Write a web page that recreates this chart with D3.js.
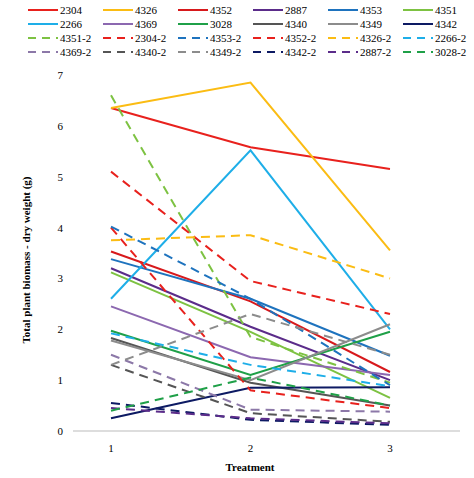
<!DOCTYPE html>
<html><head><meta charset="utf-8">
<script src="https://cdn.jsdelivr.net/npm/d3@7"></script>
<style>body{margin:0;background:#fff}text{font-family:"Liberation Serif",serif}</style>
</head><body><svg id="c" width="474" height="478"></svg>
<script>
var treatments = [1, 2, 3];
var names = ['2304','4326','4352','2887','4353','4351','2266','4369','3028','4340','4349','4342',
  '4351-2','2304-2','4353-2','4352-2','4326-2','2266-2','4369-2','4340-2','4349-2','4342-2','2887-2','3028-2'];
var colors = ['#e8211d','#fbbc13','#d7191c','#5b2c8a','#1e73be','#7dc242','#1eaee8','#8c68b0','#1fa048','#555555','#8c8c8c','#0d1a63',
  '#7dc242','#e8211d','#1e73be','#e8211d','#fbbc13','#1eaee8','#8c78a8','#555555','#8c8c8c','#0d1a63','#5b2c8a','#1fa048'];
var values = [
  [6.35,5.58,5.15],[6.35,6.85,3.55],[3.53,2.55,1.16],[3.2,2.05,1.0],[3.38,2.6,1.48],[3.12,1.95,0.65],
  [2.6,5.52,2.0],[2.45,1.45,1.1],[1.97,1.1,1.95],[1.83,0.95,0.5],[1.78,1.0,2.1],[0.25,0.85,0.86],
  [6.6,1.85,0.95],[4.0,0.8,0.45],[4.02,2.6,0.9],[5.1,2.95,2.3],[3.75,3.85,3.0],[1.92,1.3,0.88],
  [1.5,0.42,0.38],[1.3,0.35,0.18],[1.3,2.3,1.5],[0.55,0.22,0.12],[0.45,0.25,0.15],[0.4,1.05,0.5]];
var yTicks = [0,1,2,3,4,5,6,7];

var svg = d3.select('#c');
var x = d3.scalePoint().domain(treatments).range([111, 390]);
var y = d3.scaleLinear().domain([0, 7]).range([431, 75]);

svg.append('line').attr('x1',73).attr('x2',460).attr('y1',431).attr('y2',431).attr('stroke','#bbb');
svg.selectAll('.yt').data(yTicks).enter().append('text')
  .attr('x',63).attr('y',function(d){return y(d)+4;}).attr('text-anchor','end').attr('font-size',11).text(function(d){return d;});
svg.selectAll('.xt').data(treatments).enter().append('text')
  .attr('x',function(d){return x(d);}).attr('y',452).attr('text-anchor','middle').attr('font-size',11).text(function(d){return d;});
svg.append('text').attr('x',250).attr('y',471).attr('text-anchor','middle').attr('font-size',11).attr('font-weight','bold').text('Treatment');
svg.append('text').attr('transform','translate(30,260) rotate(-90)').attr('text-anchor','middle').attr('font-size',11)
  .attr('font-weight','bold').text('Total plant biomass - dry weight (g)');

var line = d3.line().x(function(d,i){return x(treatments[i]);}).y(function(d){return y(d);});
svg.selectAll('.s').data(values).enter().append('path')
  .attr('d', line).attr('fill','none').attr('stroke-width',2)
  .attr('stroke', function(d,i){return colors[i];})
  .attr('stroke-dasharray', function(d,i){return i >= 12 ? '9,6' : null;});

var lg = svg.selectAll('.lg').data(names).enter().append('g')
  .attr('transform', function(d,i){return 'translate(' + (28 + (i%6)*75) + ',' + (10 + Math.floor(i/6)*14) + ')';});
lg.append('line').attr('x1',0).attr('x2',30).attr('stroke-width',2)
  .attr('stroke', function(d,i){return colors[i];})
  .attr('stroke-dasharray', function(d,i){return i >= 12 ? '8,6' : null;});
lg.append('text').attr('x',32).attr('y',4).attr('font-size',11).text(function(d){return d;});
</script></body></html>
